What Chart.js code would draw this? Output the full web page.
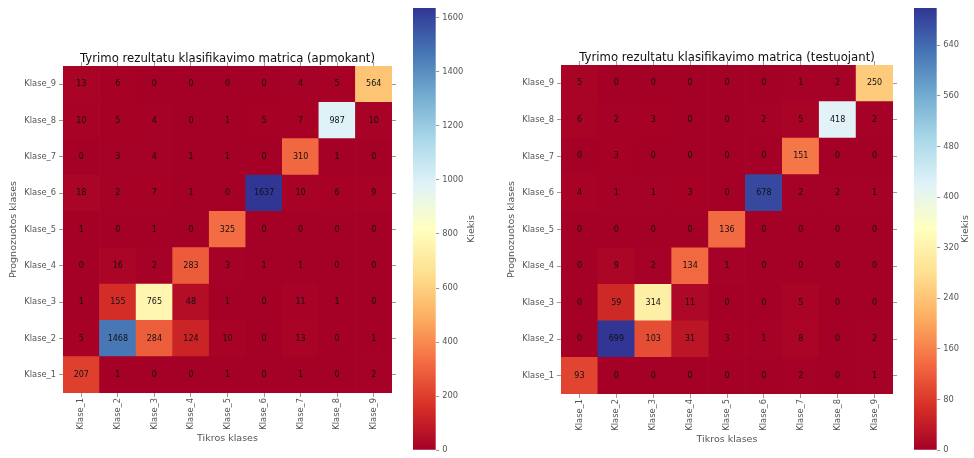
<!DOCTYPE html>
<html><head><meta charset="utf-8">
<script src="https://cdn.jsdelivr.net/npm/chart.js@4"></script>
<style>
html,body{margin:0;padding:0;background:#fff;}
#wrap{position:relative;width:974px;height:458px;overflow:hidden;background:#fff;}
canvas{position:absolute;top:0;}
</style></head><body>
<div id="wrap">
<canvas id="hmTrain" width="400" height="458" style="left:0px"></canvas>
<canvas id="cbTrain" width="75" height="458" style="left:405px"></canvas>
<canvas id="hmTest" width="420" height="458" style="left:480px"></canvas>
<canvas id="cbTest" width="69" height="458" style="left:905px"></canvas>
</div>
<script>
// ---------- DATA ----------
const classLabels = ['Klase_1','Klase_2','Klase_3','Klase_4','Klase_5','Klase_6','Klase_7','Klase_8','Klase_9'];

// Training matrix: one array per predicted class (row), values per true class (column)
const trainPred1 = [207, 1, 0, 0, 1, 0, 1, 0, 2];
const trainPred2 = [5, 1468, 284, 124, 10, 0, 13, 0, 1];
const trainPred3 = [1, 155, 765, 48, 1, 0, 11, 1, 0];
const trainPred4 = [0, 16, 2, 283, 3, 1, 1, 0, 0];
const trainPred5 = [1, 0, 1, 0, 325, 0, 0, 0, 0];
const trainPred6 = [18, 2, 7, 1, 0, 1637, 10, 6, 9];
const trainPred7 = [0, 3, 4, 1, 1, 0, 310, 1, 0];
const trainPred8 = [10, 5, 4, 0, 1, 5, 7, 987, 10];
const trainPred9 = [13, 6, 0, 0, 0, 0, 4, 5, 564];

// Test matrix
const testPred1 = [93, 0, 0, 0, 0, 0, 2, 0, 1];
const testPred2 = [0, 699, 103, 31, 3, 1, 8, 0, 2];
const testPred3 = [0, 59, 314, 11, 0, 0, 5, 0, 0];
const testPred4 = [0, 9, 2, 134, 1, 0, 0, 0, 0];
const testPred5 = [0, 0, 0, 0, 136, 0, 0, 0, 0];
const testPred6 = [4, 1, 1, 3, 0, 678, 2, 2, 1];
const testPred7 = [0, 3, 0, 0, 0, 0, 151, 0, 0];
const testPred8 = [6, 2, 3, 0, 0, 2, 5, 418, 2];
const testPred9 = [5, 0, 0, 0, 0, 0, 1, 2, 250];

const trainColorbarTicks = [0, 200, 400, 600, 800, 1000, 1200, 1400, 1600];
const testColorbarTicks = [0, 80, 160, 240, 320, 400, 480, 560, 640];

const trainRows = [trainPred1, trainPred2, trainPred3, trainPred4, trainPred5, trainPred6, trainPred7, trainPred8, trainPred9];
const testRows = [testPred1, testPred2, testPred3, testPred4, testPred5, testPred6, testPred7, testPred8, testPred9];

// ---------- STYLE ----------
const FONT = "'DejaVu Sans', sans-serif";
const RDYLBU = ['#a50026','#d73027','#f46d43','#fdae61','#fee090','#ffffbf','#e0f3f8','#abd9e9','#74add1','#4575b4','#313695'];
function hexToRgb(h){ return [parseInt(h.substr(1,2),16), parseInt(h.substr(3,2),16), parseInt(h.substr(5,2),16)]; }
const RDYLBU_RGB = RDYLBU.map(hexToRgb);
function rdylbu(t){
  t = Math.max(0, Math.min(1, t));
  const p = t * (RDYLBU_RGB.length - 1);
  const i = Math.min(Math.floor(p), RDYLBU_RGB.length - 2);
  const f = p - i;
  const a = RDYLBU_RGB[i], b = RDYLBU_RGB[i+1];
  const c = a.map((v, k) => Math.round(v + (b[k] - v) * f));
  return 'rgb(' + c.join(',') + ')';
}

const cellText = {
  id: 'cellText',
  afterDatasetsDraw(chart) {
    const ctx = chart.ctx;
    ctx.save();
    ctx.font = '8px ' + FONT;
    ctx.fillStyle = '#111';
    ctx.textAlign = 'center';
    ctx.textBaseline = 'middle';
    chart.data.datasets.forEach((ds, di) => {
      const meta = chart.getDatasetMeta(di);
      meta.data.forEach((el, i) => {
        const c = el.getCenterPoint();
        ctx.fillText(String(ds.counts[i]), c.x, c.y);
      });
    });
    ctx.restore();
  }
};

function makeHeatmap(id, rows, title, g) {
  const vmax = Math.max(...rows.flat());
  const datasets = rows.map((row, r) => ({
    data: row.map(() => [r + 0.5, r + 1.5]),
    counts: row,
    backgroundColor: row.map(v => rdylbu(v / vmax)),
    borderWidth: 0,
    barPercentage: 1,
    categoryPercentage: 1,
    grouped: false
  }));
  const tickGrid = { drawOnChartArea: false, drawTicks: true, tickLength: 4, color: '#9a9a9a', lineWidth: 1 };
  const rowTicks = s => { s.ticks = classLabels.map((_, i) => ({ value: i + 1 })); };
  new Chart(document.getElementById(id), {
    type: 'bar',
    data: { labels: classLabels, datasets },
    options: {
      responsive: false,
      animation: false,
      events: [],
      layout: { padding: { top: g.padTop, left: 0, right: g.padRight, bottom: g.padBottom } },
      plugins: {
        legend: { display: false },
        tooltip: { enabled: false },
        title: { display: true, text: title, fullSize: false, color: '#111',
          font: { family: FONT, size: 11.7, weight: 'normal', lineHeight: 1.2 },
          padding: { top: 0, bottom: 0.06 } }
      },
      scales: {
        x: { type: 'category', position: 'bottom', offset: true,
          grid: Object.assign({ offset: false }, tickGrid), border: { display: false },
          ticks: { autoSkip: false, minRotation: 90, maxRotation: 90, padding: 1, color: '#555', font: { family: FONT, size: 8.3 } },
          title: { display: true, text: 'Tikros klases', color: '#555', font: { family: FONT, size: 9.5, lineHeight: 1.2 }, padding: 0 },
          afterFit: s => { s.height = g.xH; } },
        x2: { type: 'category', position: 'top', offset: true,
          grid: Object.assign({ offset: false }, tickGrid), border: { display: false },
          ticks: { display: false },
          afterFit: s => { s.height = 0; } },
        y: { type: 'linear', position: 'left', min: 0.5, max: 9.5,
          afterBuildTicks: rowTicks,
          grid: tickGrid, border: { display: false },
          ticks: { padding: 3, color: '#555', font: { family: FONT, size: 8.3 }, callback: v => classLabels[Math.round(v) - 1] || '' },
          title: { display: true, text: 'Prognozuotos klases', color: '#555', font: { family: FONT, size: 9.5, lineHeight: 1.2 }, padding: { top: g.yTitlePad, bottom: 0 } },
          afterFit: s => { s.width = g.yW; } },
        y2: { type: 'linear', position: 'right', min: 0.5, max: 9.5,
          afterBuildTicks: rowTicks,
          grid: tickGrid, border: { display: false },
          ticks: { display: false },
          afterFit: s => { s.width = 0; } }
      }
    },
    plugins: [cellText]
  });
}

function makeColorbar(id, vmax, tickValues, g) {
  const label = {
    id: 'cbLabel',
    afterDraw(chart) {
      const ca = chart.chartArea, ctx = chart.ctx;
      ctx.save();
      ctx.translate(g.labelX, (ca.top + ca.bottom) / 2);
      ctx.rotate(-Math.PI / 2);
      ctx.font = '9.5px ' + FONT;
      ctx.fillStyle = '#555';
      ctx.textAlign = 'center';
      ctx.textBaseline = 'middle';
      ctx.fillText('Kiekis', 0, 0);
      ctx.restore();
    }
  };
  new Chart(document.getElementById(id), {
    type: 'bar',
    data: { labels: ['Kiekis'], datasets: [{
      data: [[0, vmax]],
      borderWidth: 0, barPercentage: 1, categoryPercentage: 1,
      backgroundColor: c => {
        const ca = c.chart.chartArea;
        if (!ca) return RDYLBU[0];
        const grd = c.chart.ctx.createLinearGradient(0, ca.bottom, 0, ca.top);
        RDYLBU.forEach((col, i) => grd.addColorStop(i / (RDYLBU.length - 1), col));
        return grd;
      }
    }] },
    options: {
      responsive: false, animation: false, events: [],
      layout: { padding: { top: 6, bottom: 6, left: g.left, right: 0 } },
      plugins: { legend: { display: false }, tooltip: { enabled: false } },
      scales: {
        x: { display: false },
        y: { type: 'linear', position: 'right', min: 0, max: vmax,
          afterBuildTicks: s => { s.ticks = tickValues.map(v => ({ value: v })); },
          grid: { drawOnChartArea: false, drawTicks: true, tickLength: 3.5, color: '#9a9a9a' },
          border: { display: false },
          ticks: { padding: 3, color: '#555', font: { family: FONT, size: 8.3 }, callback: v => String(v) },
          afterFit: s => { s.width = g.axisW; } }
      }
    },
    plugins: [label]
  });
}

makeHeatmap('hmTrain', trainRows, 'Tyrimo rezultatu klasifikavimo matrica (apmokant)',
  { padTop: 51.9, padRight: 8, padBottom: 13.3, xH: 51.7, yW: 63, yTitlePad: 8.3 });
makeHeatmap('hmTest', testRows, 'Tyrimo rezultatu klasifikavimo matrica (testuojant)',
  { padTop: 50.9, padRight: 7, padBottom: 12.3, xH: 51.7, yW: 81, yTitlePad: 26.3 });
makeColorbar('cbTrain', Math.max(...trainRows.flat()), trainColorbarTicks, { left: 8, axisW: 44.3, labelX: 67 });
makeColorbar('cbTest', Math.max(...testRows.flat()), testColorbarTicks, { left: 9, axisW: 37.3, labelX: 61 });
</script>
</body></html>
